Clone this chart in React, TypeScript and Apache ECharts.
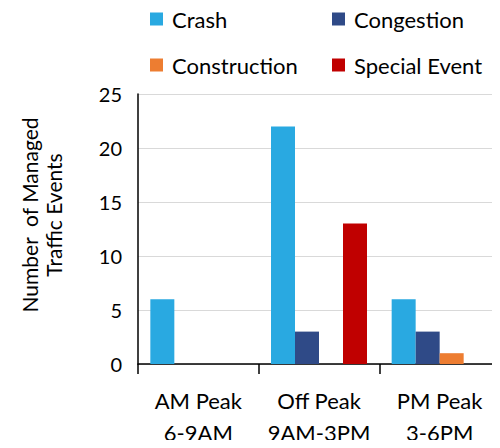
import React, { useEffect, useRef } from "react";
import * as echarts from "echarts";

const categories = ["AM Peak\n6-9AM", "Off Peak\n9AM-3PM", "PM Peak\n3-6PM"];
const crash = [6, 22, 6];
const congestion = [0, 3, 3];
const construction = [0, 0, 1];
const specialEvent = [0, 13, 0];
const yTicks = { min: 0, max: 25, interval: 5 };

const FONT = "Lato, 'Liberation Sans', sans-serif";

export default function App() {
  const ref = useRef<HTMLDivElement>(null);
  useEffect(() => {
    if (!ref.current) return;
    const chart = echarts.init(ref.current, null, { renderer: "svg" });
    const legendText = { fontSize: 22, color: "#000", fontFamily: FONT, padding: [0, 0, 0, 4] };
    const mkLegend = (name: string, left: number, top: number) => ({
      data: [name],
      left,
      top,
      icon: "rect",
      itemWidth: 13,
      itemHeight: 13,
      textStyle: legendText,
      selectedMode: false,
    });
    const mkBar = (name: string, data: number[], color: string) => ({
      name,
      type: "bar",
      data,
      barWidth: 24,
      barGap: "0%",
      itemStyle: { color },
    });
    chart.setOption({
      animation: false,
      textStyle: { fontFamily: FONT },
      legend: [
        mkLegend("Crash", 145, 3),
        mkLegend("Congestion", 327, 3),
        mkLegend("Construction", 145, 49),
        mkLegend("Special Event", 327, 49),
      ],
      grid: { left: 138, right: 0, top: 94, bottom: 82 },
      graphic: [
        {
          type: "text",
          x: 41,
          y: 215,
          rotation: Math.PI / 2,
          style: {
            text: "Number  of Managed\nTraffic Events",
            fontSize: 21,
            fontFamily: FONT,
            fill: "#000",
            textAlign: "center",
            textVerticalAlign: "middle",
            lineHeight: 24,
          },
        },
      ],
      xAxis: {
        type: "category",
        data: categories,
        axisLine: { lineStyle: { color: "#000", width: 1.5 } },
        axisTick: { show: true, length: 10, lineStyle: { color: "#000", width: 1.5 } },
        axisLabel: {
          interval: 0,
          fontSize: 22,
          color: "#000",
          fontFamily: FONT,
          lineHeight: 32,
          margin: 20,
        },
      },
      yAxis: {
        type: "value",
        min: yTicks.min,
        max: yTicks.max,
        interval: yTicks.interval,
        axisLine: { show: true, lineStyle: { color: "#000", width: 1.5 } },
        axisTick: { show: false },
        splitLine: { lineStyle: { color: "#d9d9d9", width: 1 } },
        axisLabel: { fontSize: 20, color: "#000", fontFamily: FONT, margin: 16 },
      },
      series: [
        mkBar("Crash", crash, "#29A9E1"),
        mkBar("Congestion", congestion, "#2F4A87"),
        mkBar("Construction", construction, "#ED7D31"),
        mkBar("Special Event", specialEvent, "#C00000"),
      ],
    });
    return () => chart.dispose();
  }, []);
  return <div ref={ref} style={{ width: 500, height: 448, margin: -8 }} />;
}
